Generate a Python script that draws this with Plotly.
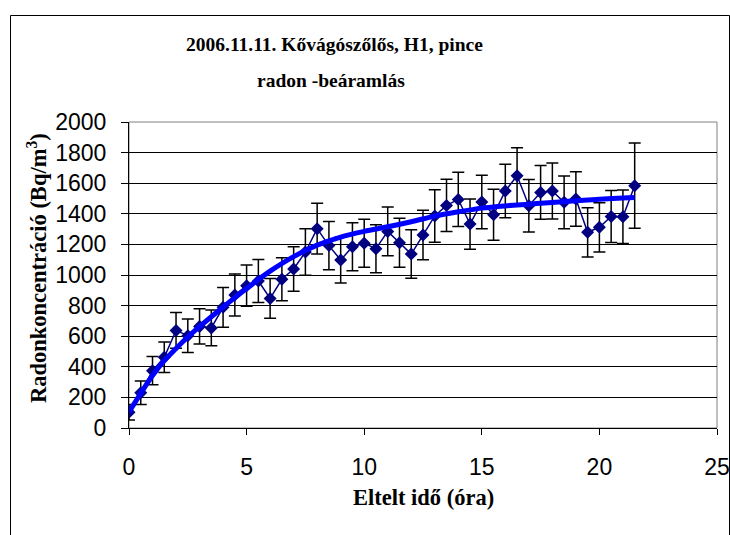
import plotly.graph_objects as go

hours = [0, 0.5, 1, 1.5, 2, 2.5, 3, 3.5, 4, 4.5, 5, 5.5, 6, 6.5, 7, 7.5, 8, 8.5, 9, 9.5,
         10, 10.5, 11, 11.5, 12, 12.5, 13, 13.5, 14, 14.5, 15, 15.5, 16, 16.5, 17, 17.5,
         18, 18.5, 19, 19.5, 20, 20.5, 21, 21.5]
radon = [103, 231, 375, 462, 638, 603, 664, 654, 789, 869, 930, 961, 847, 972, 1039, 1150,
         1303, 1192, 1098, 1185, 1207, 1172, 1285, 1211, 1137, 1261, 1386, 1455, 1494, 1333,
         1477, 1394, 1549, 1649, 1453, 1540, 1549, 1475, 1497, 1279, 1312, 1383, 1381, 1584]
radon_err = [50, 77, 92, 100, 117, 110, 115, 117, 130, 137, 135, 140, 130, 141, 145, 152,
             166, 157, 150, 157, 157, 157, 159, 160, 158, 162, 172, 171, 177, 164, 175, 167,
             175, 183, 172, 176, 183, 172, 178, 161, 161, 170, 175, 278]

fit_hours = [0, 0.5, 1, 1.5, 2, 2.5, 3, 3.5, 4, 4.5, 5, 6, 7, 8, 9, 10, 11, 12, 13, 14,
             15, 16, 17, 18, 19, 20, 21, 21.5]
fit_radon = [105, 227, 343, 440, 520, 595, 662, 727, 790, 852, 912, 1025, 1120, 1195, 1248,
             1285, 1315, 1348, 1385, 1413, 1437, 1452, 1463, 1474, 1486, 1495, 1503, 1506]

x_ticks = [0, 5, 10, 15, 20, 25]
y_ticks = [0, 200, 400, 600, 800, 1000, 1200, 1400, 1600, 1800, 2000]

title_line1 = "2006.11.11. Kővágószőlős, H1, pince"
title_line2 = "radon -beáramlás"
x_title = "Eltelt idő (óra)"
y_title = "Radonkoncentráció (Bq/m<sup>3</sup>)"

SERIF = "Liberation Serif, Times New Roman, serif"
SANS = "Liberation Sans, Arial, sans-serif"

W, H = 730, 535
ML, MR, MT, MB = 129, 13, 122, 107
PW = W - ML - MR
PH = H - MT - MB


def px_x(p):
    return (p - ML) / PW


def px_y(p):
    return (H - MB - p) / PH


fig = go.Figure()

fig.add_trace(go.Scatter(
    x=hours, y=radon, mode="lines+markers",
    line=dict(color="#000080", width=1.5),
    marker=dict(symbol="diamond", size=10, color="#000080"),
    error_y=dict(type="data", array=radon_err, visible=True,
                 color="black", thickness=1.5, width=6),
    showlegend=False,
))

fig.add_trace(go.Scatter(
    x=fit_hours, y=fit_radon, mode="lines",
    line=dict(color="#0000FF", width=5, shape="spline"),
    showlegend=False,
))

fig.update_layout(
    width=W, height=H,
    margin=dict(l=ML, r=MR, t=MT, b=MB),
    paper_bgcolor="white", plot_bgcolor="white",
    font=dict(family=SANS, color="black"),
    shapes=[
        dict(type="rect", xref="paper", yref="paper", x0=0, x1=1, y0=0, y1=1,
             line=dict(color="#808080", width=1), layer="below"),
        dict(type="rect", xref="paper", yref="paper",
             x0=px_x(10.5), x1=px_x(729.5), y0=px_y(560), y1=px_y(15.5),
             line=dict(color="black", width=1), layer="below"),
    ],
    annotations=[
        dict(text=title_line1, xref="paper", yref="paper", x=px_x(334), y=px_y(44),
             showarrow=False, xanchor="center", yanchor="middle",
             font=dict(family=SERIF, size=19.5, color="black", weight="bold")),
        dict(text=title_line2, xref="paper", yref="paper", x=px_x(331), y=px_y(80),
             showarrow=False, xanchor="center", yanchor="middle",
             font=dict(family=SERIF, size=19.5, color="black", weight="bold")),
        dict(text=x_title, xref="paper", yref="paper", x=px_x(423), y=px_y(497),
             showarrow=False, xanchor="center", yanchor="middle",
             font=dict(family=SERIF, size=22.5, color="black", weight="bold")),
        dict(text=y_title, xref="paper", yref="paper", x=px_x(37), y=px_y(268),
             showarrow=False, xanchor="center", yanchor="middle", textangle=-90,
             font=dict(family=SERIF, size=22.5, color="black", weight="bold")),
    ],
)

fig.update_xaxes(
    range=[0, 25], tickvals=x_ticks, ticks="outside", ticklen=6, tickcolor="black",
    showline=True, linecolor="black", linewidth=1, showgrid=False, zeroline=False,
    tickfont=dict(family=SANS, size=23, color="black"), ticklabelstandoff=12,
    automargin=False,
)
fig.update_yaxes(
    range=[0, 2000], tickvals=y_ticks, ticks="outside", ticklen=7, tickcolor="black",
    showline=True, linecolor="black", linewidth=1, showgrid=True, gridcolor="black",
    gridwidth=1, zeroline=False,
    tickfont=dict(family=SANS, size=23, color="black"), ticklabelstandoff=10,
    automargin=False,
)

fig.write_html("out.html")
